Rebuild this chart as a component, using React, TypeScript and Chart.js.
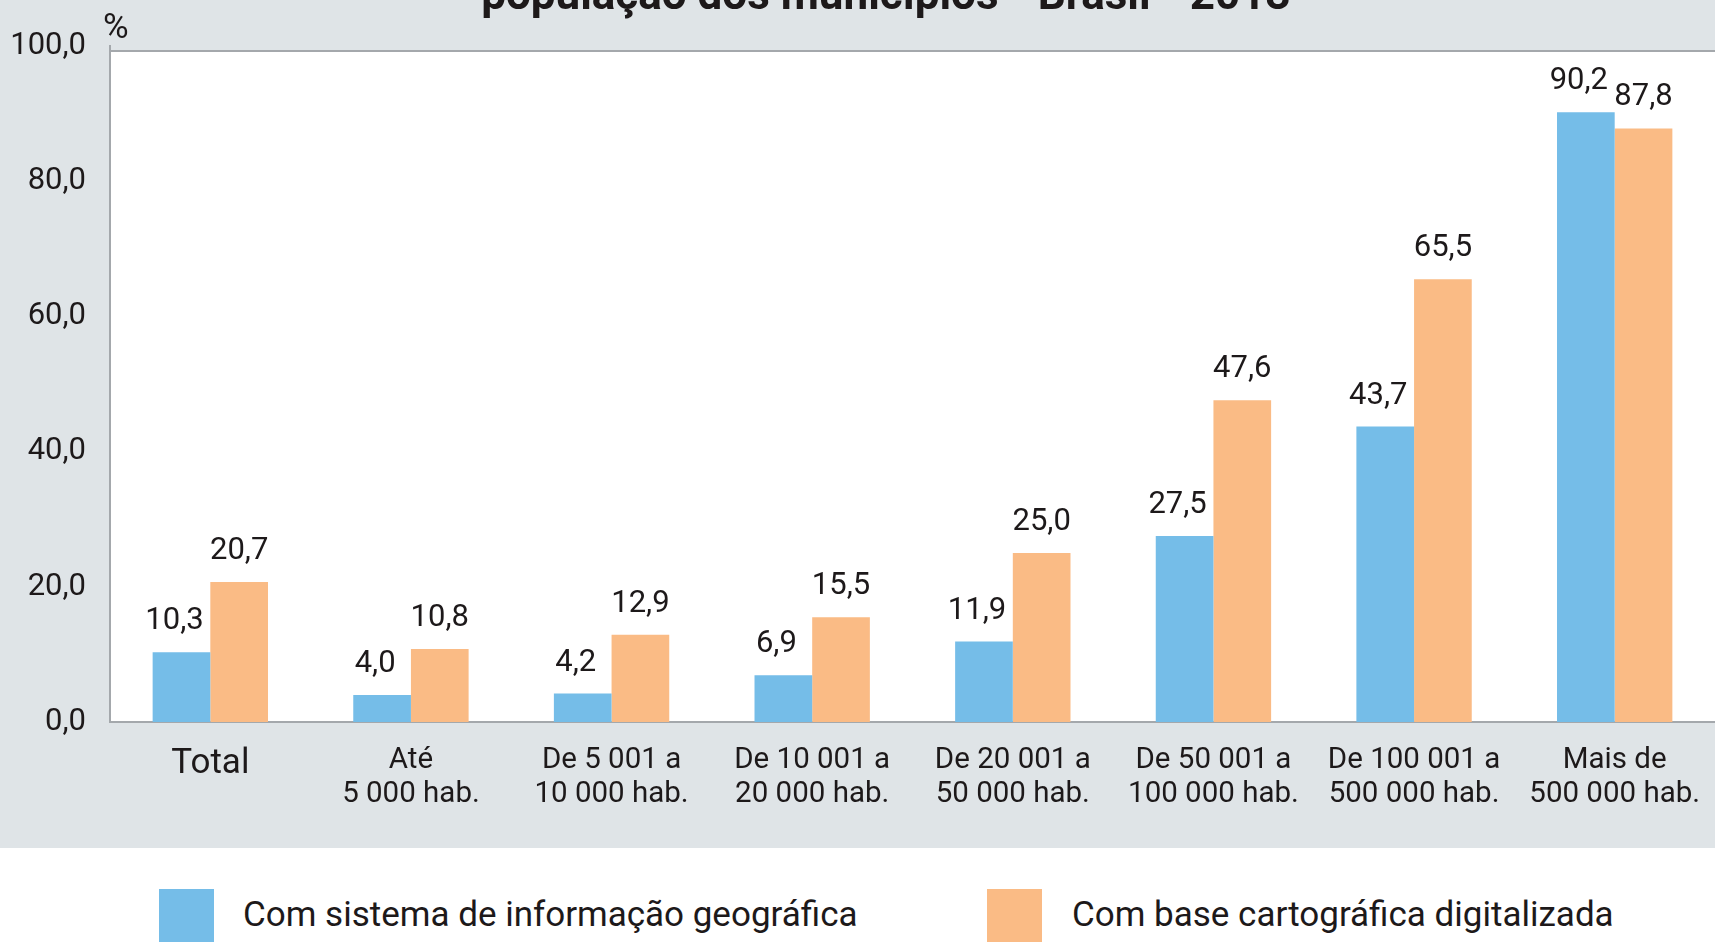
import React, { useEffect, useRef } from "react";
import { Chart, registerables } from "chart.js";

Chart.register(...registerables);

// ---------- data ----------
const categories: (string | string[])[] = [
  "Total",
  ["Até", "5 000 hab."],
  ["De 5 001 a", "10 000 hab."],
  ["De 10 001 a", "20 000 hab."],
  ["De 20 001 a", "50 000 hab."],
  ["De 50 001 a", "100 000 hab."],
  ["De 100 001 a", "500 000 hab."],
  ["Mais de", "500 000 hab."],
];
const sigValues = [10.3, 4.0, 4.2, 6.9, 11.9, 27.5, 43.7, 90.2];
const baseValues = [20.7, 10.8, 12.9, 15.5, 25.0, 47.6, 65.5, 87.8];
const seriesNames = [
  "Com sistema de informação geográfica",
  "Com base cartográfica digitalizada",
];
const yMin = 0;
const yMax = 100;
const yStep = 20;
const titleText = "população dos municípios - Brasil - 2013";
const unitText = "%";

// ---------- style ----------
const BLUE = "#75bde8";
const ORANGE = "#fabb85";
const GRAY_BG = "#dfe4e7";
const BORDER = "#a4a8ac";
const TEXT = "#1d191a";
const FONT = "Roboto";

const fmt = (v: number) => v.toFixed(1).replace(".", ",");

const framePlugin = {
  id: "frame",
  beforeDraw(chart: any) {
    const { ctx, chartArea: a } = chart;
    ctx.save();
    ctx.fillStyle = GRAY_BG;
    ctx.fillRect(0, 0, chart.width, chart.height);
    ctx.fillStyle = "#ffffff";
    const top = a.top + 5;
    ctx.fillRect(a.left, top, a.right - a.left, a.bottom - top);
    ctx.restore();
  },
  afterDraw(chart: any) {
    const { ctx, chartArea: a } = chart;
    ctx.save();
    ctx.strokeStyle = BORDER;
    ctx.lineWidth = 2;
    ctx.beginPath();
    ctx.moveTo(a.left - 1, a.top + 5);
    ctx.lineTo(a.right, a.top + 5);
    ctx.stroke();
    ctx.fillStyle = TEXT;
    ctx.textAlign = "left";
    ctx.textBaseline = "alphabetic";
    ctx.font = `35px ${FONT}`;
    ctx.fillText(unitText, 103, 38);
    ctx.font = `bold 44px ${FONT}`;
    ctx.textAlign = "center";
    ctx.fillText(titleText, 886, 9);
    ctx.restore();
  },
};

const valueLabelPlugin = {
  id: "valueLabels",
  afterDatasetsDraw(chart: any) {
    const { ctx } = chart;
    ctx.save();
    ctx.fillStyle = TEXT;
    ctx.font = `31px ${FONT}`;
    ctx.textAlign = "center";
    ctx.textBaseline = "alphabetic";
    chart.data.datasets.forEach((ds: any, di: number) => {
      const meta = chart.getDatasetMeta(di);
      const dx = di === 0 ? -7 : 0;
      meta.data.forEach((bar: any, i: number) => {
        ctx.fillText(fmt(ds.data[i]), bar.x + dx, bar.y - 23);
      });
    });
    ctx.restore();
  },
};

function BarChart() {
  const ref = useRef<HTMLCanvasElement | null>(null);
  useEffect(() => {
    if (!ref.current) return;
    const chart = new Chart(ref.current, {
      type: "bar",
      data: {
        labels: categories,
        datasets: [
          {
            label: seriesNames[0],
            data: sigValues,
            backgroundColor: BLUE,
            barPercentage: 1,
            categoryPercentage: 0.575,
          },
          {
            label: seriesNames[1],
            data: baseValues,
            backgroundColor: ORANGE,
            barPercentage: 1,
            categoryPercentage: 0.575,
          },
        ],
      },
      options: {
        animation: false,
        responsive: false,
        devicePixelRatio: 1,
        layout: { padding: { top: 46, left: 0, right: 0, bottom: 0 } },
        plugins: {
          legend: { display: false },
          tooltip: { enabled: false },
          title: { display: false },
        },
        scales: {
          x: {
            grid: { display: false, drawTicks: false },
            border: { display: true, color: BORDER, width: 2 },
            ticks: {
              color: TEXT,
              padding: 22,
              maxRotation: 0,
              autoSkip: false,
              font: (c: any) =>
                c.index === 0
                  ? { family: FONT, size: 35, lineHeight: 1.15 }
                  : { family: FONT, size: 29.5, lineHeight: 1.15 },
            },
            afterFit: (s: any) => {
              s.height = 126;
              s.paddingLeft = 0;
              s.paddingRight = 0;
            },
          },
          y: {
            min: yMin,
            max: yMax,
            grid: { display: false, drawTicks: false },
            border: { display: true, color: BORDER, width: 2 },
            ticks: {
              stepSize: yStep,
              color: TEXT,
              padding: 24,
              font: { family: FONT, size: 31 },
              callback: (v: any) => fmt(Number(v)),
            },
            afterFit: (s: any) => {
              s.width = 110;
              s.paddingTop = 0;
              s.paddingBottom = 0;
            },
          },
        },
      },
      plugins: [framePlugin, valueLabelPlugin],
    } as any);
    return () => chart.destroy();
  }, []);
  return (
    <canvas
      ref={ref}
      width={1715}
      height={848}
      style={{ display: "block", width: 1715, height: 848 }}
    />
  );
}

export default function App() {
  const legendText: React.CSSProperties = {
    position: "absolute",
    top: 914,
    transform: "translateY(-50%)",
    fontFamily: FONT,
    fontSize: 35,
    lineHeight: 1,
    color: TEXT,
    whiteSpace: "nowrap",
  };
  return (
    <div
      style={{
        position: "fixed",
        left: 0,
        top: 0,
        width: 1715,
        height: 942,
        background: "#ffffff",
        overflow: "hidden",
      }}
    >
      <BarChart />
      <div style={{ position: "absolute", left: 159, top: 889, width: 55, height: 60, background: BLUE }} />
      <div style={{ ...legendText, left: 243 }}>{seriesNames[0]}</div>
      <div style={{ position: "absolute", left: 987, top: 889, width: 55, height: 60, background: ORANGE }} />
      <div style={{ ...legendText, left: 1072 }}>{seriesNames[1]}</div>
    </div>
  );
}
